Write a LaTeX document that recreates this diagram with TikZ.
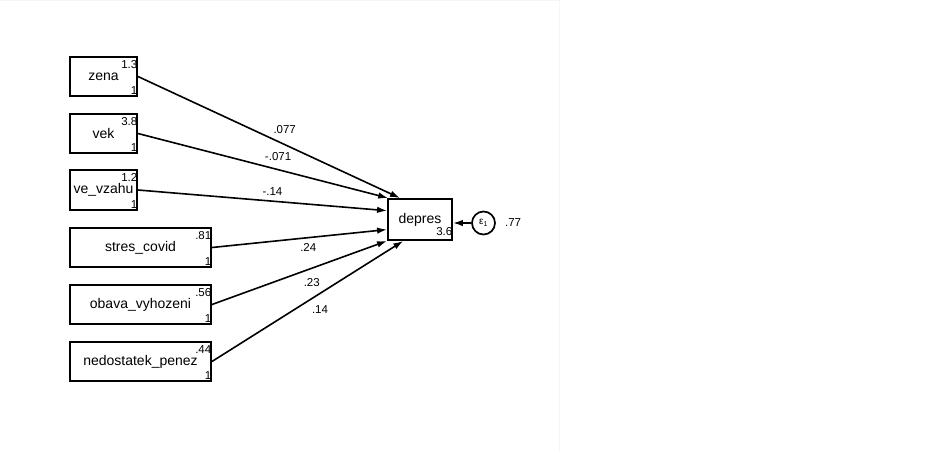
\documentclass[tikz,border=0pt]{standalone}
\usepackage{fontspec}
\setmainfont{Liberation Sans}
\usetikzlibrary{positioning, arrows.meta}

\tikzset{
	var/.style={draw, line width=1.9pt, rectangle, inner sep=0pt, minimum height=39pt, font=\fontsize{14}{16}\selectfont},
	num/.style={inner sep=0pt, font=\fontsize{11.5}{13}\selectfont},
	sipka/.style={line width=1.6pt, -{Latex[length=10pt,width=6.5pt]}},
	koef/.style={inner sep=0pt, font=\fontsize{11.5}{13}\selectfont}
}

\begin{document}
\begin{tikzpicture}[x=1pt,y=-1pt]
	\useasboundingbox (0,0) rectangle (933,451);
	% okraj plochy
	\draw[gray!8] (0,0.5) -- (559,0.5) (559,0) -- (559,451);
	
	% nezavisle promenne
	\node[var, minimum width=67pt] (zena) at (103.5,76.5) {zena};
	\node[var, minimum width=67pt] (vek) at (103.5,133.5) {vek};
	\node[var, minimum width=67pt, minimum height=40pt] (vzah) at (103.5,190) {ve\_vzahu};
	\node[var, minimum width=141pt] (stres) at (140.5,247.5) {stres\_covid};
	\node[var, minimum width=141pt] (obava) at (140.5,304.5) {obava\_vyhozeni};
	\node[var, minimum width=141pt] (penez) at (140.5,361.5) {nedostatek\_penez};
	
	% zavisla promenna a chyba
	\node[var, minimum width=64pt, minimum height=41pt] (depres) at (420,219.5) {depres};
	\node[draw, circle, line width=1.7pt, minimum size=23pt, inner sep=0pt, font=\fontsize{10}{11}\selectfont] (eps) at (483.5,223) {ε\textsubscript{1}};
	\node[num, right=9pt of eps] (eps-v) {.77};
	
	% cisla v rozich
	\foreach \v/\m in {zena/1.3, vek/3.8, vzah/1.2, stres/.81, obava/.56, penez/.44} {
		\node[num, anchor=north east] (\v-m) at ([xshift=-0.5pt,yshift=-4pt]\v.north east) {\m};
		\node[num, anchor=south east] (\v-j) at ([xshift=-0.5pt,yshift=2pt]\v.south east) {1};
	}
	\node[num, anchor=south east] (depres-m) at ([xshift=-0.5pt,yshift=5.5pt]depres.south east) {3.6};
	
	% cesty
	\draw[sipka] (zena.east) -- node[koef, pos=.56, yshift=15pt] (k1) {.077} (depres.133);
	\draw[sipka] (vek.east) -- node[koef, pos=.56, yshift=13.5pt] (k2) {-.071} (depres.146);
	\draw[sipka] (vzah.east) -- node[koef, pos=.54, yshift=9.5pt] (k3) {-.14} (depres.165);
	\draw[sipka] (stres.east) -- node[koef, pos=.55, yshift=-10pt] (k4) {.24} (depres.197);
	\draw[sipka] (obava.east) -- node[koef, pos=.57, yshift=-14.5pt] (k5) {.23} (depres.213);
	\draw[sipka] (penez.east) -- node[koef, pos=.565, yshift=-16pt] (k6) {.14} (depres.232);
	\draw[sipka] (eps.west) -- (eps.west -| depres.east);
\end{tikzpicture}
\end{document}
